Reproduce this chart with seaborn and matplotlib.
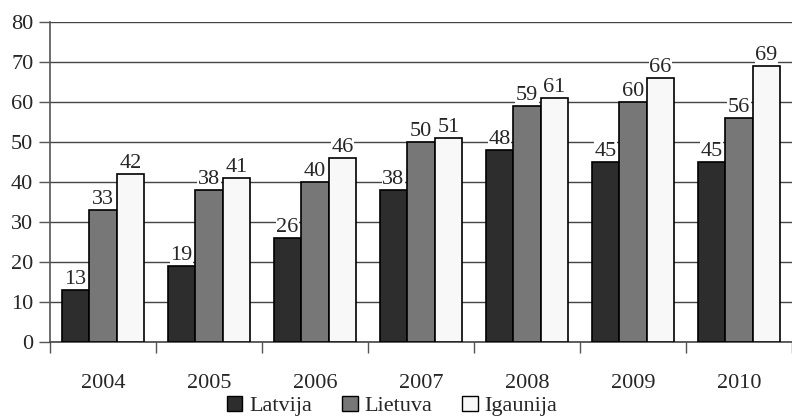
import matplotlib
matplotlib.use("Agg")
import matplotlib.pyplot as plt
import seaborn as sns
import pandas as pd
import numpy as np
from matplotlib.patches import Patch

years = ["2004", "2005", "2006", "2007", "2008", "2009", "2010"]
series = ["Latvija", "Lietuva", "Igaunija"]
latvija = [13, 19, 26, 38, 48, 45, 45]
lietuva = [33, 38, 40, 50, 59, 60, 56]
igaunija = [42, 41, 46, 51, 61, 66, 69]
colors = ["#2d2d2d", "#777777", "#f8f8f8"]

df = pd.DataFrame({
    "year": years * 3,
    "country": [s for s in series for _ in years],
    "value": latvija + lietuva + igaunija,
})

sns.set_style("white")
plt.rcParams["font.family"] = ["Liberation Serif", "DejaVu Serif"]
FS = 16

fig = plt.figure(figsize=(7.92, 4.18), dpi=100)
ax = fig.add_axes([50 / 792, 1 - 342 / 418, 1 - 50 / 792, (342 - 22) / 418])

sns.barplot(data=df, x="year", y="value", hue="country", palette=colors,
            width=0.78, edgecolor="black", linewidth=1.2, saturation=1,
            legend=False, ax=ax, zorder=3)

for cont in ax.containers:
    ax.bar_label(cont, fmt="%d", padding=1, fontsize=FS,
                 bbox=dict(facecolor="white", edgecolor="none", pad=0.3))

ax.set_xlim(-0.5, len(years) - 0.5)
ax.set_ylim(0, 80)
ax.set_yticks(range(0, 81, 10))
ax.yaxis.grid(True, color="#444444", linewidth=1)
ax.set_axisbelow(True)
ax.set_xlabel("")
ax.set_ylabel("")

for s in ["top", "right"]:
    ax.spines[s].set_visible(False)
ax.spines["left"].set_color("#555555")
ax.spines["bottom"].set_color("#444444")
ax.spines["left"].set_linewidth(1.2)
ax.spines["bottom"].set_linewidth(1.2)

ax.tick_params(axis="y", which="major", direction="out", length=8, width=1,
               color="#555555", labelsize=FS, pad=4, left=True)
ax.tick_params(axis="x", which="major", length=0, labelsize=FS, pad=23)
ax.set_xticks(np.arange(-0.5, len(years), 1.0), minor=True)
ax.tick_params(axis="x", which="minor", direction="out", length=8, width=1,
               color="#555555", bottom=True)

handles = [Patch(facecolor=c, edgecolor="black", linewidth=1) for c in colors]
fig.legend(handles, series, loc="center", bbox_to_anchor=(0.495, 1 - 406 / 418),
           ncol=3, frameon=False, fontsize=FS, handlelength=0.7,
           handleheight=0.7, handletextpad=0.3, columnspacing=1.35,
           borderpad=0)

fig.savefig("out.png", dpi=100)
